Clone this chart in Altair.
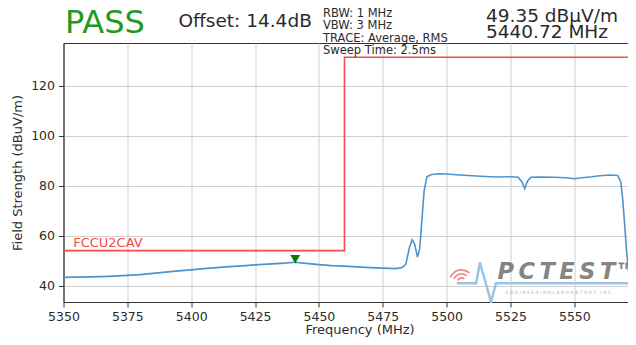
import altair as alt
import pandas as pd

# ---------------- data ----------------
trace_freq = [5350, 5355, 5360, 5365, 5370, 5375, 5380, 5385, 5390, 5395, 5400, 5405,
              5410, 5415, 5420, 5425, 5430, 5435, 5440.72, 5445, 5450, 5455, 5460, 5465,
              5470, 5475, 5480, 5482.5, 5484, 5485.5, 5486.5, 5487.5, 5488.6, 5489.5,
              5490.3, 5491.2, 5492.3, 5494, 5497, 5500, 5505, 5510, 5515, 5520, 5525,
              5528, 5529.5, 5530.6, 5531.6, 5533, 5537, 5542, 5547, 5550, 5553, 5557,
              5560, 5564, 5567, 5568.2, 5569, 5569.8, 5570.4, 5571.2, 5572, 5573]
trace_level = [43.3, 43.4, 43.5, 43.6, 43.8, 44.1, 44.4, 44.9, 45.4, 45.9, 46.3, 46.8,
               47.2, 47.6, 47.9, 48.3, 48.6, 48.9, 49.35, 48.9, 48.4, 48.0, 47.8, 47.5,
               47.2, 47.0, 46.8, 47.2, 48.5, 55.5, 58.4, 56.5, 51.4, 55.0,
               66.0, 78.0, 83.6, 84.5, 84.8, 84.7, 84.3, 84.0, 83.7, 83.5, 83.6,
               83.4, 81.5, 78.8, 81.8, 83.4, 83.5, 83.4, 83.2, 82.8, 83.2, 83.6,
               84.0, 84.3, 84.1, 81.5, 74.0, 63.0, 54.5, 46.0, 40.0, 36.0]

limit_freq = [5350, 5460, 5460, 5600]
limit_level = [54, 54, 131.4, 131.4]
limit_name = "FCCU2CAV"

marker_freq = [5440.72]
marker_level = [49.35]

x_ticks = [5350, 5375, 5400, 5425, 5450, 5475, 5500, 5525, 5550, 5575]
y_ticks = [40, 60, 80, 100, 120]
x_title = "Frequency (MHz)"
y_title = "Field Strength (dBuV/m)"

header_status = "PASS"
header_offset = "Offset: 14.4dB"
header_settings = ["RBW: 1 MHz", "VBW: 3 MHz", "TRACE: Average, RMS", "Sweep Time: 2.5ms"]
header_marker = ["49.35 dBµV/m", "5440.72 MHz"]
logo_name = "P\u2009C\u2009T\u2009E\u2009S\u2009T\u2122"
logo_sub = "E N G I N E E R I N G   L A B O R A T O R Y ,  I N C ."

# ---------------- tables ----------------
trace_df = pd.DataFrame({"f": trace_freq, "v": trace_level})
limit_df = pd.DataFrame({"f": limit_freq, "v": limit_level, "i": list(range(len(limit_freq)))})
marker_df = pd.DataFrame({"f": marker_freq, "v": marker_level})
one = pd.DataFrame({"k": [0]})

FONT = "DejaVu Sans"
TXT = "#2b2b2b"

PLOT_W = 566
X_END = 5571.6
xs = alt.Scale(domain=[5350, X_END], nice=False, zero=False)
ys = alt.Scale(domain=[33.45, 137.1], nice=False, zero=False)

x_axis = alt.Axis(values=x_ticks, format="d", title=None, grid=True, gridColor="#cfcfcf",
                  labelFontSize=12.5, labelColor=TXT, labelFont=FONT, labelPadding=3,
                  tickSize=5, tickColor="#333", domainColor="#333", labelFlush=False)
y_axis = alt.Axis(values=y_ticks, title=y_title, grid=True, gridColor="#cfcfcf",
                  labelFontSize=12.5, labelColor=TXT, labelFont=FONT, labelPadding=4,
                  tickSize=5, tickColor="#333", domainColor="#333",
                  titleFontSize=13, titleFont=FONT, titleFontWeight="normal", titleColor=TXT,
                  titlePadding=6)

x_enc = alt.X("f:Q", scale=xs, axis=x_axis)
y_enc = alt.Y("v:Q", scale=ys, axis=y_axis)

trace = alt.Chart(trace_df).mark_line(color="#4d94cc", strokeWidth=1.6, clip=True).encode(
    x=x_enc, y=y_enc)

limit = alt.Chart(limit_df).mark_line(color="#f24b4b", strokeWidth=1.6, clip=True).encode(
    x=x_enc, y=y_enc, order="i:Q")

limit_label = alt.Chart(one).mark_text(
    text=limit_name, color="#f24b4b", font=FONT, fontSize=13, align="left",
    baseline="alphabetic", dy=-4).encode(x=alt.datum(5353.8, scale=xs), y=alt.datum(limit_level[0], scale=ys))

marker = alt.Chart(marker_df).mark_point(shape="triangle-down", filled=True, color="#0b7a0b",
                                         size=95, opacity=1, yOffset=-3).encode(x=x_enc, y=y_enc)

# ---------- watermark (decoration) ----------
LOGO_BLUE = "#9cc3e4"
segs = [((394.5, 240.3), (412.5, 240.3)), ((412.5, 240.3), (416.5, 220.0)),
        ((416.5, 220.0), (427.5, 258.7)), ((427.5, 258.7), (432.5, 240.3)),
        ((432.5, 240.3), (585.0, 240.3))]
logo_layers = []
for (a, b) in segs:
    logo_layers.append(alt.Chart(one).mark_rule(color=LOGO_BLUE, strokeWidth=2.5, strokeCap="round").encode(
        x=alt.value(a[0]), y=alt.value(a[1]), x2=alt.value(b[0]), y2=alt.value(b[1])))
for r in [5, 9, 13]:
    logo_layers.append(alt.Chart(one).mark_arc(radius=r, radius2=r - 1.8, theta=5.1, theta2=7.0,
                                               color="#f08a8a").encode(
        x=alt.value(398), y=alt.value(239)))
logo_layers.append(alt.Chart(one).mark_text(text=logo_name, font=FONT, fontSize=22.5, fontWeight="bold",
                                            fontStyle="italic", color="#858585", align="left",
                                            baseline="alphabetic").encode(
    x=alt.value(434), y=alt.value(235.5)))
logo_layers.append(alt.Chart(one).mark_text(text=logo_sub, font=FONT, fontSize=4.5, color="#b5b5b5",
                                            align="left", baseline="middle").encode(
    x=alt.value(442), y=alt.value(250)))

# ---------- header texts ----------
def txt(t, x, y, size, color=TXT, align="left"):
    return alt.Chart(one).mark_text(text=t, font=FONT, fontSize=size, color=color, align=align,
                                    baseline="alphabetic").encode(
        x=alt.value(x), y=alt.value(y))

header = [txt(header_status, 1.5, -10.5, 32, color="#229a22"),
          txt(header_offset, 115, -16, 18.5)]
for k, s in enumerate(header_settings):
    header.append(txt(s, 259.5, -26 + 12.3 * k, 11.5))
header.append(txt(header_marker[0], 422.5, -21.3, 18.5))
header.append(txt(header_marker[1], 422.5, -5.3, 18.5))

x_title_mark = txt(x_title, 296.5, 290.5, 13, align="center")

chart = alt.layer(
    trace, *logo_layers, limit, limit_label, marker, *header, x_title_mark
).properties(
    width=PLOT_W, height=259,
    autosize=alt.AutoSizeParams(type="none"),
    padding={"left": 55.5, "top": 35, "right": 620 - 55.5 - PLOT_W, "bottom": 35},
    background="white",
).configure_view(stroke="#333", strokeWidth=1)

chart.save("out.html", embed_options={"renderer": "svg", "actions": False})
